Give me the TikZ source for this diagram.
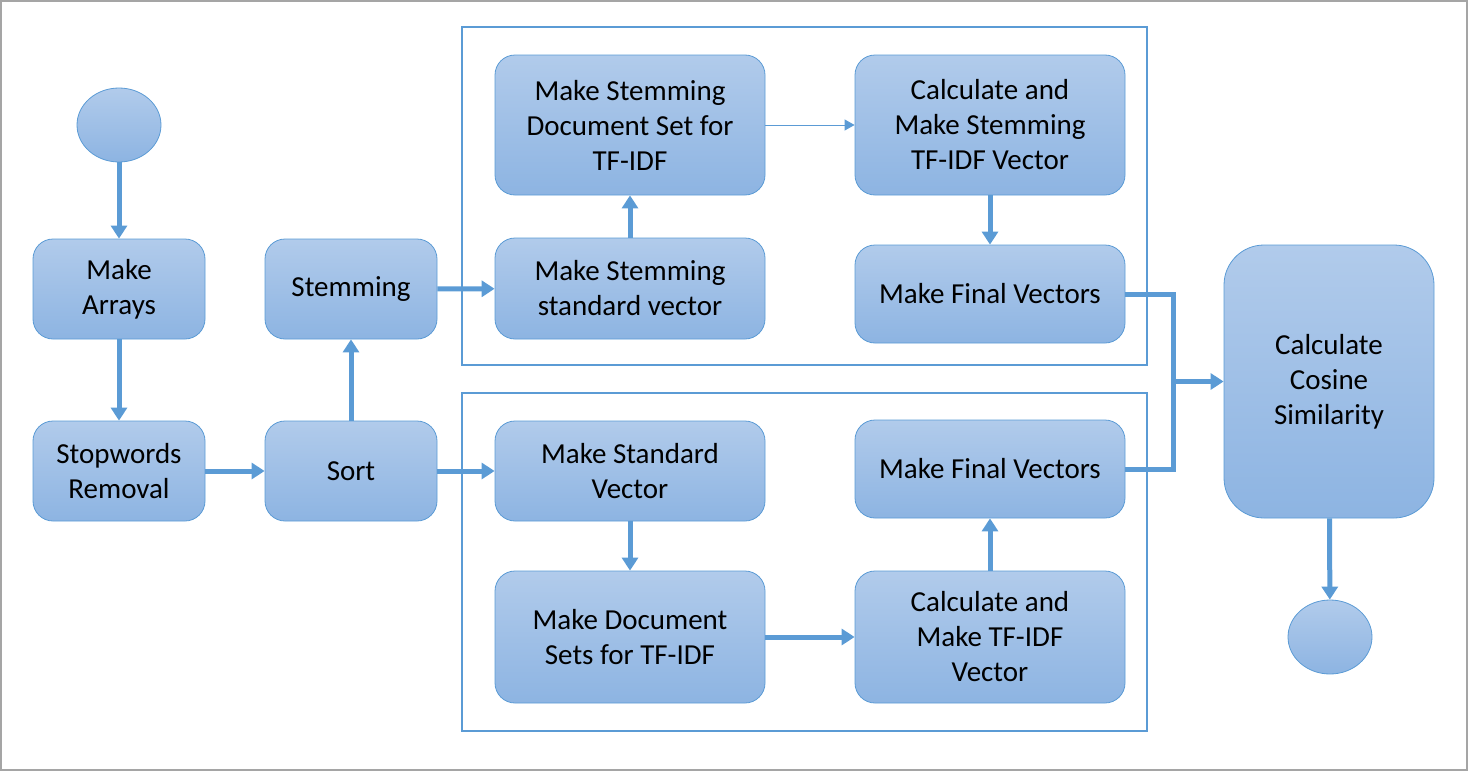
\documentclass[tikz,border=0pt]{standalone}
\usepackage{fontspec}
\setmainfont{Carlito}
\usetikzlibrary{arrows.meta,shapes.geometric}
\definecolor{linkblue}{RGB}{91,155,213}
\definecolor{boxtop}{RGB}{177,203,235}
\definecolor{boxbottom}{RGB}{141,180,226}
\definecolor{framegray}{RGB}{165,165,165}

\begin{document}
\begin{tikzpicture}[x=0.5pt, y=-0.5pt,
    main node/.style={rectangle, rounded corners=10pt, draw=linkblue, top color=boxtop, bottom color=boxbottom, align=center, inner sep=2pt, font=\fontsize{14.5}{17.5}\selectfont},
    end node/.style={ellipse, draw=linkblue, top color=boxtop, bottom color=boxbottom, minimum width=42pt, minimum height=37pt},
    group box/.style={draw=linkblue, line width=0.8pt},
    flow/.style={draw, color=linkblue, line width=2.5pt, -{Triangle[length=6.5pt, width=8pt]}},
    thin flow/.style={draw, color=linkblue, line width=0.5pt, -{Triangle[length=5pt, width=5.5pt]}}]
        \useasboundingbox (0,0) rectangle (1468,771);
        \draw[framegray, line width=0.6pt] (1,1) rectangle (1467,770);

        % the two groups
        \draw[group box] (462,27) rectangle (1147,365);
        \draw[group box] (462,393) rectangle (1147,731);

          \node[end node] (start) at (119,125) {};
          \node[main node, minimum width=86pt, minimum height=50pt] (arrays) at (119,289) {Make\\Arrays};
          \node[main node, minimum width=86pt, minimum height=50pt] (stopwords) at (119,471) {Stopwords\\Removal};
          \node[main node, minimum width=86pt, minimum height=50pt] (sort) at (351,471) {Sort};
          \node[main node, minimum width=86pt, minimum height=50pt] (stemming) at (351,289) {Stemming};

          \node[main node, minimum width=135pt, minimum height=70pt] (stemdocs) at (630,125) {Make Stemming\\Document Set for\\TF-IDF};
          \node[main node, minimum width=135pt, minimum height=70pt] (stemcalc) at (990,125) {Calculate and\\Make Stemming\\TF-IDF Vector};
          \node[main node, minimum width=135pt, minimum height=50.5pt] (stemstd) at (630,288.5) {Make Stemming\\standard vector};
          \node[main node, minimum width=135pt, minimum height=49pt] (stemfinal) at (990,294) {Make Final Vectors};

          \node[main node, minimum width=135pt, minimum height=50pt] (stdvec) at (630,471) {Make Standard\\Vector};
          \node[main node, minimum width=135pt, minimum height=66pt] (docsets) at (630,637) {Make Document\\Sets for TF-IDF};
          \node[main node, minimum width=135pt, minimum height=66pt] (tfidfcalc) at (990,637) {Calculate and\\Make TF-IDF\\Vector};
          \node[main node, minimum width=135pt, minimum height=49pt] (final) at (990,469) {Make Final Vectors};

          \node[main node, rounded corners=20pt, minimum width=105pt, minimum height=136.5pt] (cosine) at (1329,381.5) {Calculate\\Cosine\\Similarity};
          \node[end node] (end) at (1330,637) {};
          \coordinate (join) at (1173,381.5);

          \path[every edge/.style={flow}]
            (start) edge (arrays)
            (arrays) edge (stopwords)
            (stopwords) edge (sort)
            (sort) edge (stemming)
            (sort) edge (stdvec)
            (stemming) edge (stemstd)
            (stemstd) edge (stemdocs)
            (stemcalc) edge (stemfinal)
            (stdvec) edge (docsets)
            (docsets) edge (tfidfcalc)
            (tfidfcalc) edge (final)
            (cosine) edge (end);
          \path[every edge/.style={thin flow}] (stemdocs) edge (stemcalc);

          \draw[linkblue, line width=2.5pt] (stemfinal.east) -| (join);
          \draw[linkblue, line width=2.5pt] (final.east) -| (join);
          \draw[flow] (join) -- (cosine.west);

        \end{tikzpicture}
\end{document}
